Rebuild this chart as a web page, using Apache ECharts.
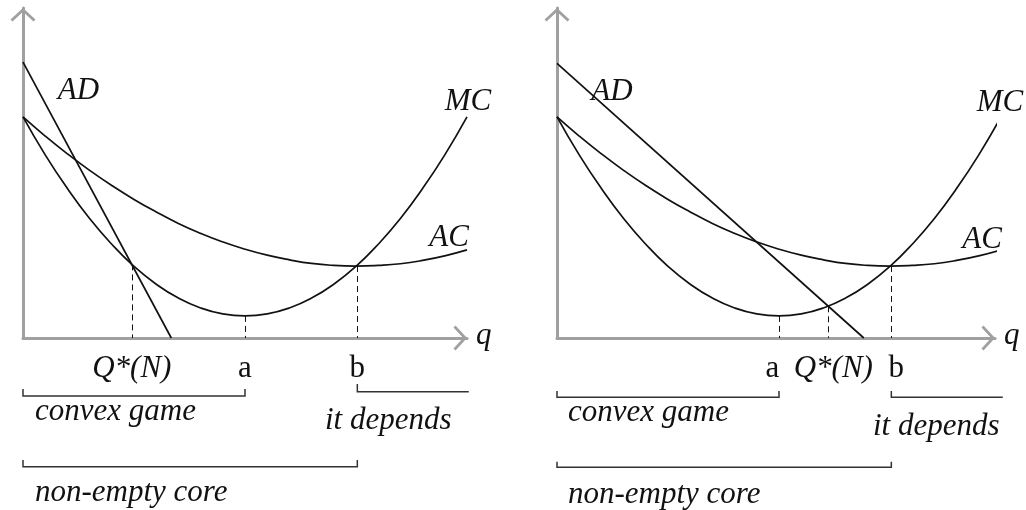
<!DOCTYPE html>
<html>
<head>
<meta charset="utf-8">
<title>Convex game / non-empty core</title>
<script src="https://cdn.jsdelivr.net/npm/echarts@6/dist/echarts.min.js"></script>
<style>
html, body { margin: 0; padding: 0; background: #fff; }
#chart { width: 1026px; height: 510px; }
</style>
</head>
<body>
<div id="chart"></div>
<script>
// MC and AC (same curves in both panels)
const qSteps = [0, 5, 10, 15, 20, 25, 30, 35, 40, 45, 50, 55, 60, 65, 70, 75, 80, 85, 90, 95, 100];
const mcValues = [67.0, 55.5, 45.3, 36.2, 28.4, 21.7, 16.3, 12.1, 9.1, 7.3, 6.7, 7.3, 9.1, 12.1, 16.3, 21.7, 28.4, 36.2, 45.3, 55.5, 67.0];
const acValues = [67.0, 61.2, 55.8, 50.8, 46.2, 42.0, 38.2, 34.7, 31.7, 29.1, 26.9, 25.1, 23.7, 22.6, 22.0, 21.8, 22.0, 22.5, 23.5, 24.9, 26.7];

// AD (straight lines), ends on the two axes
const adLeftQ = [0, 33.4];
const adLeftP = [83.6, 0];
const adRightQ = [0, 69.1];
const adRightP = [83.2, 0];

// marked points on the q axis: Q*(N), a, b
const keyLabels = ['Q*(N)', 'a', 'b'];
const keyLeftQ = [24.5, 50, 75.3];
const keyLeftP = [22.3, 6.7, 21.8];
const keyRightQ = [61.1, 50, 75.3];
const keyRightP = [9.6, 6.7, 21.8];
const qEnd = 100.4;

const curveNames = ['AD', 'MC', 'AC', 'q'];
const rangeNames = ['convex game', 'it depends', 'non-empty core'];

const chart = echarts.init(document.getElementById('chart'));

const ink = '#111';
const axisGrey = '#a0a0a0';
// open chevron, drawn pointing up (ECharts turns it along the axis)
const chevron = 'path://M0,11.5L12.5,0L25,11.5L23,13.5L12.5,3.84L2,13.5Z';
const serif = '"Liberation Serif", "Times New Roman", serif';

function makeAxis(grid, max) {
  return {
    gridIndex: grid,
    type: 'value',
    min: 0,
    max: max,
    axisLine: {
      show: true,
      onZero: false,
      lineStyle: { color: axisGrey, width: 3 },
      symbol: ['none', chevron],
      symbolSize: [25, 13.5],
      symbolOffset: [0, -6.75]
    },
    axisTick: { show: false },
    axisLabel: { show: false },
    splitLine: { show: false }
  }
}

function curve(name, idx, qs, ps, marks) {
  const s = {
    name: name,
    type: 'line',
    xAxisIndex: idx,
    yAxisIndex: idx,
    data: qs.map((q, i) => [q, ps[i]]),
    smooth: name !== 'AD',
    showSymbol: false,
    clip: false,
    lineStyle: { color: ink, width: 1.7 },
    silent: true
  }
  if (marks) {
    s.markLine = {
      silent: true,
      symbol: ['none', 'none'],
      label: { show: false },
      lineStyle: { color: ink, width: 1, type: [6, 4] },
      data: marks.q.map((q, i) => [{ coord: [q, marks.p[i]] }, { coord: [q, 0] }])
    }
  }
  return s
}

chart.setOption({
  animation: false,
  grid: [
    { left: 23, top: 8, width: 444, height: 330 },
    { left: 557, top: 8, width: 438, height: 330 }
  ],
  xAxis: [makeAxis(0, 100), makeAxis(1, 98.65)],
  yAxis: [makeAxis(0, 100), makeAxis(1, 100)],
  series: [
    curve('MC', 0, qSteps, mcValues, { q: keyLeftQ, p: keyLeftP }),
    curve('AC', 0, qSteps, acValues),
    curve('AD', 0, adLeftQ, adLeftP),
    curve('MC', 1, qSteps, mcValues, { q: keyRightQ, p: keyRightP }),
    curve('AC', 1, qSteps, acValues),
    curve('AD', 1, adRightQ, adRightP)
  ]
})

// text & brackets placed per panel
const panels = [
  {
    idx: 0, keyQ: keyLeftQ, shift: [0, 0, 0],
    curveLabels: [[78.5, 91], [468, 102], [449, 238], [476, 336]],
    brackets: [[396, 7], [391.7, 7.7], [466.7, 6.7]],
    texts: [[35, 412], [325, 420.5], [35, 493]]
  },
  {
    idx: 1, keyQ: keyRightQ, shift: [5, -6.5, 5],
    curveLabels: [[612, 91.5], [1000, 103], [982, 240], [1004, 336]],
    brackets: [[397.3, 6.3], [397.3, 6.3], [467.3, 5.6]],
    texts: [[568, 412.5], [873, 427], [568, 494.5]]
  }
]

function txt(text, x, y, italic, align) {
  return {
    type: 'text',
    silent: true,
    style: {
      text: text,
      x: x,
      y: y,
      font: (italic ? 'italic ' : '') + '31px ' + serif,
      fill: '#111',
      align: align || 'center',
      textAlign: align || 'center',
      verticalAlign: 'middle',
      textVerticalAlign: 'middle'
    }
  }
}

function bracket(points) {
  return {
    type: 'polyline',
    silent: true,
    shape: { points: points },
    style: { stroke: '#333', lineWidth: 1.5, fill: null }
  }
}

const graphics = []
panels.forEach(p => {
  const px = q => chart.convertToPixel({ xAxisIndex: p.idx }, q)
  // Q*(N), a, b under the axis
  keyLabels.forEach((label, i) => {
    graphics.push(txt(label, px(p.keyQ[i]) + p.shift[i], 368.5, label !== 'a' && label !== 'b'))
  })
  curveNames.forEach((name, i) => {
    const pos = p.curveLabels[i]
    graphics.push(txt(name, pos[0], pos[1], true, name === 'q' ? 'left' : 'center'))
  })
  const x0 = px(0)
  const xa = px(keyLeftQ[1])
  const xb = px(keyLeftQ[2])
  const xe = px(qEnd)
  const b = p.brackets
  graphics.push(bracket([[x0, b[0][0] - b[0][1]], [x0, b[0][0]], [xa, b[0][0]], [xa, b[0][0] - b[0][1]]]))
  graphics.push(bracket([[xb, b[1][0] - b[1][1]], [xb, b[1][0]], [xe, b[1][0]]]))
  graphics.push(bracket([[x0, b[2][0] - b[2][1]], [x0, b[2][0]], [xb, b[2][0]], [xb, b[2][0] - b[2][1]]]))
  rangeNames.forEach((name, i) => {
    graphics.push(txt(name, p.texts[i][0], p.texts[i][1], true, 'left'))
  })
})

chart.setOption({ graphic: graphics })
</script>
</body>
</html>
